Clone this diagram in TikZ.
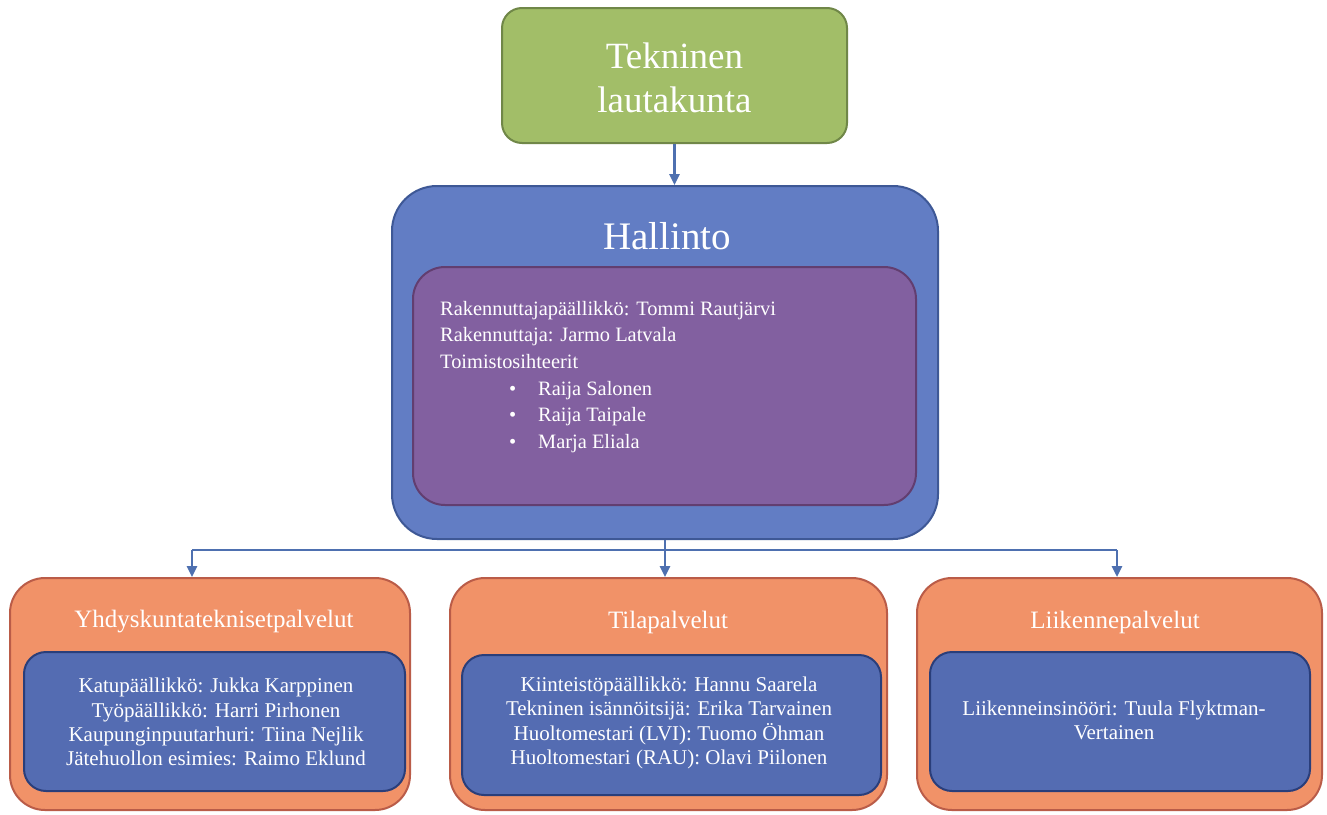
\documentclass[tikz,border=0pt]{standalone}
\usepackage{fontspec}
\setmainfont{Liberation Serif}
\usetikzlibrary{arrows.meta}
\definecolor{gfill}{RGB}{162,190,104}
\definecolor{gdraw}{RGB}{112,135,72}
\definecolor{bfill}{RGB}{98,125,196}
\definecolor{bdraw}{RGB}{62,88,150}
\definecolor{pfill}{RGB}{130,96,160}
\definecolor{pdraw}{RGB}{98,62,112}
\definecolor{ofill}{RGB}{241,146,104}
\definecolor{odraw}{RGB}{186,92,72}
\definecolor{ifill}{RGB}{84,108,178}
\definecolor{idraw}{RGB}{42,62,122}
\definecolor{cline}{RGB}{78,112,176}
\tikzset{
  boxbase/.style={rectangle, line width=2pt, inner sep=0pt, text=white},
  greenbox/.style={boxbase, fill=gfill, draw=gdraw, rounded corners=20pt},
  halbox/.style={boxbase, fill=bfill, draw=bdraw, rounded corners=45pt},
  purbox/.style={boxbase, fill=pfill, draw=pdraw, rounded corners=32pt},
  orbox/.style={boxbase, fill=ofill, draw=odraw, rounded corners=35pt},
  innbox/.style={boxbase, fill=ifill, draw=idraw, rounded corners=22pt},
  ttl/.style={text=white, inner sep=0pt, align=center},
  conn/.style={draw=cline, line width=2.5pt},
  tip/.style={conn, -{Triangle[length=11pt,width=10pt]}}
}
\begin{document}
\begin{tikzpicture}[x=1pt,y=-1pt]
\useasboundingbox[fill=white] (0,0) rectangle (1327,814);

% top box
\node[greenbox, minimum width=345pt, minimum height=135pt] (tek) at (674.5,75.5) {};
\node[ttl, font=\fontsize{37}{44}\selectfont] (tektxt) at (674.5,78) {Tekninen\\lautakunta};

% Hallinto
\node[halbox, minimum width=546pt, minimum height=353pt] (hal) at (665,362.5) {};
\node[ttl, font=\fontsize{39}{44}\selectfont] (haltxt) at (667,236) {Hallinto};
\node[purbox, minimum width=503pt, minimum height=238pt] (adm) at (664.5,386) {};
\node[text=white, inner sep=0pt, anchor=north west, align=left,
      font=\fontsize{20.4}{26.6}\selectfont] (admtxt) at (440,301) {%
Rakennuttajapäällikkö: Tommi Rautjärvi\\
Rakennuttaja: Jarmo Latvala\\
Toimistosihteerit\\
\hspace*{69pt}\makebox[29pt][l]{\textbullet}Raija Salonen\\
\hspace*{69pt}\makebox[29pt][l]{\textbullet}Raija Taipale\\
\hspace*{69pt}\makebox[29pt][l]{\textbullet}Marja Eliala};

% bottom boxes
\node[orbox, minimum width=400pt, minimum height=232pt] (yht) at (210,694) {};
\node[orbox, minimum width=437pt, minimum height=232pt] (til) at (668.5,694) {};
\node[orbox, minimum width=405pt, minimum height=232pt] (lii) at (1119.5,694) {};

\node[ttl, font=\fontsize{25}{28}\selectfont] (yhtt) at (214,622) {Yhdyskuntateknisetpalvelut};
\node[ttl, font=\fontsize{25}{28}\selectfont] (tilt) at (668,622) {Tilapalvelut};
\node[ttl, font=\fontsize{25}{28}\selectfont] (liit) at (1115,622) {Liikennepalvelut};

\node[innbox, minimum width=381pt, minimum height=139pt] (yhti) at (214.5,721.5) {};
\node[innbox, minimum width=419pt, minimum height=140pt] (tili) at (671.5,725) {};
\node[innbox, minimum width=380pt, minimum height=139pt] (liii) at (1120,721.5) {};

\node[ttl, font=\fontsize{21}{24.2}\selectfont] (yhtx) at (216,722) {%
Katupäällikkö: Jukka Karppinen\\
Työpäällikkö: Harri Pirhonen\\
Kaupunginpuutarhuri: Tiina Nejlik\\
Jätehuollon esimies: Raimo Eklund};
\node[ttl, font=\fontsize{21}{24.2}\selectfont] (tilx) at (669,723) {%
Kiinteistöpäällikkö: Hannu Saarela\\
Tekninen isännöitsijä: Erika Tarvainen\\
Huoltomestari (LVI): Tuomo Öhman\\
Huoltomestari (RAU): Olavi Piilonen};
\node[ttl, font=\fontsize{21}{24.2}\selectfont] (liix) at (1114,720) {%
Liikenneinsinööri: Tuula Flyktman-\\
Vertainen};

% connectors
\draw[tip] (tek.south) -- (tek.south |- hal.north);
\coordinate (busL) at (192,550);
\coordinate (busR) at (1117,550);
\draw[conn] (hal.south) -- (hal.south |- busL);
\draw[conn] (busL) -- (busR);
\draw[tip] (busL) -- (busL |- yht.north);
\draw[tip] (hal.south |- busL) -- (hal.south |- til.north);
\draw[tip] (busR) -- (busR |- lii.north);
\end{tikzpicture}
\end{document}
